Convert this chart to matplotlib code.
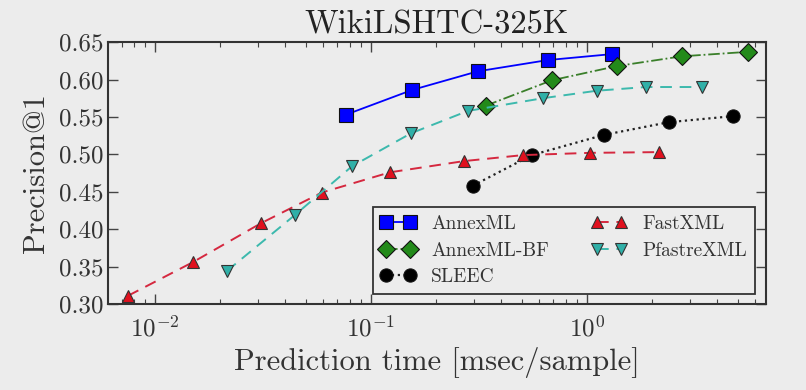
import matplotlib
matplotlib.use("Agg")
import matplotlib.pyplot as plt

plt.rcParams["font.family"] = ["cmr10", "DejaVu Serif"]
plt.rcParams["mathtext.fontset"] = "cm"
plt.rcParams["axes.unicode_minus"] = False
plt.rcParams["axes.formatter.use_mathtext"] = True

# prediction time [msec/sample] and precision@1 per method
annexml_t = [0.0766, 0.155, 0.313, 0.659, 1.31]
annexml_p = [0.553, 0.586, 0.611, 0.626, 0.634]

annexml_bf_t = [0.340, 0.689, 1.38, 2.75, 5.56]
annexml_bf_p = [0.565, 0.599, 0.618, 0.631, 0.637]

sleec_t = [0.296, 0.556, 1.20, 2.40, 4.74]
sleec_p = [0.458, 0.499, 0.526, 0.543, 0.551]

fastxml_t = [0.0075, 0.0150, 0.0310, 0.0593, 0.1225, 0.270, 0.506, 1.03, 2.15]
fastxml_p = [0.311, 0.356, 0.408, 0.449, 0.476, 0.491, 0.499, 0.502, 0.503]

pfastre_t = [0.0215, 0.0445, 0.0817, 0.153, 0.281, 0.625, 1.11, 1.88, 3.40]
pfastre_p = [0.344, 0.419, 0.484, 0.528, 0.558, 0.575, 0.585, 0.590, 0.590]

BG = "#ececec"

fig = plt.figure(figsize=(8.06, 3.9), dpi=100, facecolor=BG)
ax = fig.add_axes([0.134, 0.2205, 0.816, 0.6715], facecolor=BG)

ax.plot(annexml_t, annexml_p, "-", color="#0000ff", lw=1.3, marker="s", ms=10,
        mfc="#0000ff", mec="#111111", mew=0.8, label="AnnexML")
ax.plot(annexml_bf_t, annexml_bf_p, "-.", color="#3a7f2a", lw=1.3, marker="D", ms=9.5,
        mfc="#238a1a", mec="#111111", mew=0.8, label="AnnexML-BF")
ax.plot(sleec_t, sleec_p, ":", color="#222222", lw=1.6, marker="o", ms=9.5,
        mfc="#000000", mec="#111111", mew=0.8, label="SLEEC")
ax.plot(fastxml_t, fastxml_p, "--", color="#d5283f", lw=1.4, marker="^", ms=9,
        mfc="#e0101e", mec="#333333", mew=0.8, label="FastXML", dashes=(6, 4))
ax.plot(pfastre_t, pfastre_p, "--", color="#3cb9ad", lw=1.4, marker="v", ms=9,
        mfc="#30b0a8", mec="#333333", mew=0.8, label="PfastreXML", dashes=(6, 4))

ax.set_xscale("log")
ax.set_xlim(0.00606, 6.74)
ax.set_ylim(0.30, 0.65)
ax.set_yticks([0.30, 0.35, 0.40, 0.45, 0.50, 0.55, 0.60, 0.65])
ax.set_yticklabels(["0.30", "0.35", "0.40", "0.45", "0.50", "0.55", "0.60", "0.65"])

ax.tick_params(which="both", direction="in", top=True, right=True, labelsize=18,
               colors="#444444", labelcolor="#333333")
ax.tick_params(which="major", length=7, width=1)
ax.tick_params(which="minor", length=3.5, width=0.8)
ax.tick_params(axis="x", pad=8)
for s in ax.spines.values():
    s.set_color("#333333")
    s.set_linewidth(1.5)

ax.set_title("WikiLSHTC-325K", fontsize=23.5, color="#222222", pad=6)
ax.set_xlabel("Prediction time [msec/sample]", fontsize=22, color="#333333", labelpad=4)
ax.set_ylabel("Precision@1", fontsize=22, color="#333333", labelpad=6)

leg = ax.legend(loc="lower right", ncol=2, numpoints=2, fontsize=14, frameon=True,
                fancybox=False, edgecolor="#333333", facecolor=BG, framealpha=1,
                handlelength=1.8, columnspacing=2.2, borderpad=0.4, labelspacing=0.45,
                borderaxespad=0, bbox_to_anchor=(0.983, 0.038))
leg.get_frame().set_linewidth(1.3)
for t in leg.get_texts():
    t.set_color("#333333")

fig.savefig("out.png", dpi=100, facecolor=BG)
